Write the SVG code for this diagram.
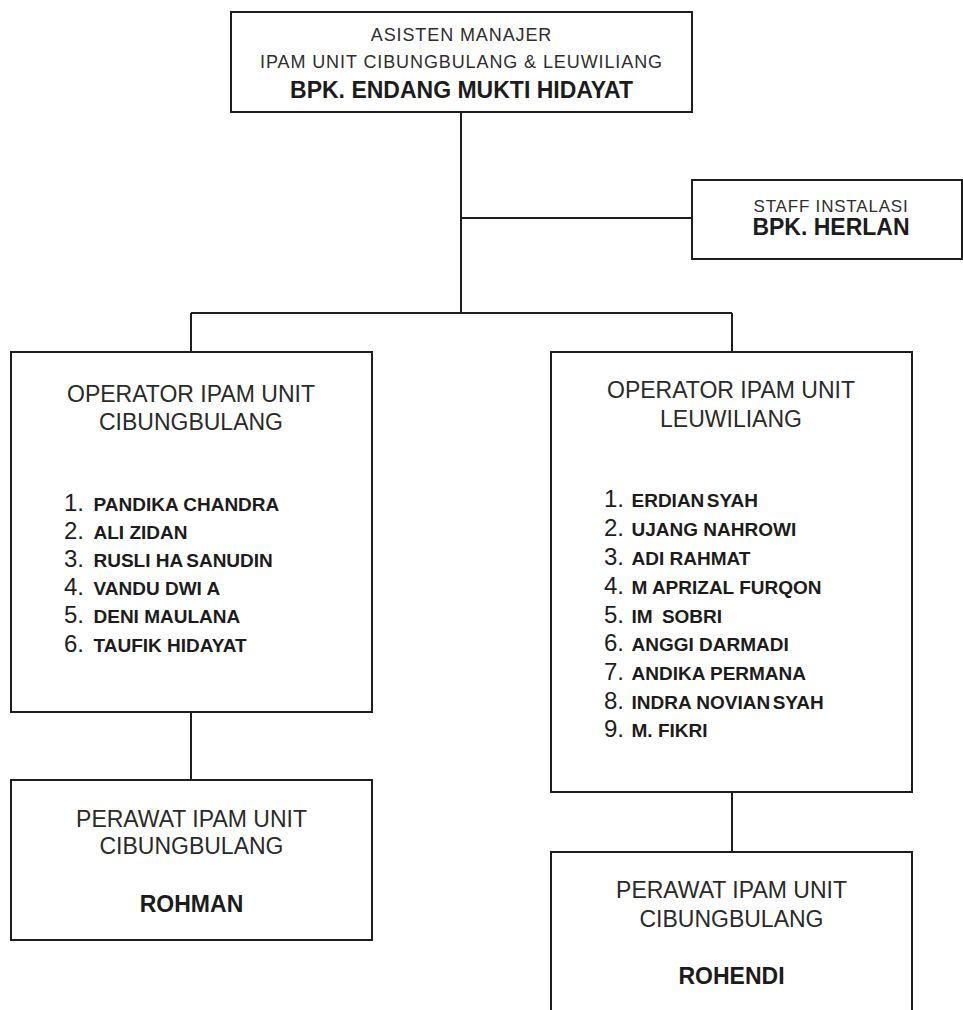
<svg xmlns="http://www.w3.org/2000/svg" width="963" height="1010" viewBox="0 0 963 1010">
  <style>
    .box { fill: #ffffff; stroke: #1e1e1e; stroke-width: 2; }
    .wire { fill: none; stroke: #1e1e1e; stroke-width: 2; }
    text { font-family: "Liberation Sans", Arial, sans-serif; text-anchor: middle; }
    .small { font-size: 18px; fill: #2e2e2e; letter-spacing: 0.9px; }
    .staff { font-size: 17px; fill: #2e2e2e; letter-spacing: 0.8px; }
    .name { font-size: 23px; font-weight: bold; fill: #1c1c1c; }
    .head { font-size: 23px; fill: #2a2a2a; }
    .list { text-anchor: start; }
    .num { font-size: 24px; fill: #1e1e1e; }
    .who { font-size: 19px; font-weight: bold; fill: #1c1c1c; }
  </style>
  <rect width="963" height="1010" fill="#ffffff"/>

  <!-- connectors -->
  <g id="connectors">
    <path class="wire" d="M461 112 V313"/>
    <path class="wire" d="M461 218 H692"/>
    <path class="wire" d="M191 313 H732"/>
    <path class="wire" d="M191 313 V352"/>
    <path class="wire" d="M732 313 V352"/>
    <path class="wire" d="M191 712 V780"/>
    <path class="wire" d="M732 792 V852"/>
  </g>

  <!-- assistant manager -->
  <g id="asisten-manajer">
    <rect class="box" x="231" y="12" width="461" height="100"/>
    <text class="small" x="461.5" y="41">ASISTEN MANAJER</text>
    <text class="small" x="461.5" y="68">IPAM UNIT CIBUNGBULANG &amp; LEUWILIANG</text>
    <text class="name" x="461.5" y="98">BPK. ENDANG MUKTI HIDAYAT</text>
  </g>

  <!-- installation staff -->
  <g id="staff-instalasi">
    <rect class="box" x="692" y="180" width="270" height="79"/>
    <text class="staff" x="831" y="212">STAFF INSTALASI</text>
    <text class="name" x="831" y="235">BPK. HERLAN</text>
  </g>

  <!-- operators, Cibungbulang -->
  <g id="operator-cibungbulang">
    <rect class="box" x="11" y="352" width="361" height="360"/>
    <text class="head" x="191" y="402">OPERATOR IPAM UNIT</text>
    <text class="head" x="191" y="430">CIBUNGBULANG</text>
    <g class="list">
      <text class="list num" x="64" y="511">1.</text><text class="list who" x="93.5" y="511">PANDIKA CHANDRA</text>
      <text class="list num" x="64" y="539">2.</text><text class="list who" x="93.5" y="539">ALI ZIDAN</text>
      <text class="list num" x="64" y="567">3.</text><text class="list who" x="93.5" y="567">RUSLI HA<tspan dx="3">SANUDIN</tspan></text>
      <text class="list num" x="64" y="595">4.</text><text class="list who" x="93.5" y="595">VANDU DWI A</text>
      <text class="list num" x="64" y="623">5.</text><text class="list who" x="93.5" y="623">DENI MAULANA</text>
      <text class="list num" x="64" y="651.5">6.</text><text class="list who" x="93.5" y="651.5">TAUFIK HIDAYAT</text>
    </g>
  </g>

  <!-- operators, Leuwiliang -->
  <g id="operator-leuwiliang">
    <rect class="box" x="551" y="352" width="361" height="440"/>
    <text class="head" x="731" y="398">OPERATOR IPAM UNIT</text>
    <text class="head" x="731" y="427">LEUWILIANG</text>
    <g class="list">
      <text class="list num" x="604" y="507">1.</text><text class="list who" x="631.5" y="507">ERDIAN<tspan dx="2.5">SYAH</tspan></text>
      <text class="list num" x="604" y="536">2.</text><text class="list who" x="631.5" y="536">UJANG NAHROWI</text>
      <text class="list num" x="604" y="565">3.</text><text class="list who" x="631.5" y="565">ADI RAHMAT</text>
      <text class="list num" x="604" y="594">4.</text><text class="list who" x="631.5" y="594">M APRIZAL FURQON</text>
      <text class="list num" x="604" y="622.5">5.</text><text class="list who" x="631.5" y="622.5">IM <tspan dx="4">SOBRI</tspan></text>
      <text class="list num" x="604" y="651">6.</text><text class="list who" x="631.5" y="651">ANGGI DARMADI</text>
      <text class="list num" x="604" y="680">7.</text><text class="list who" x="631.5" y="680">ANDIKA PERMANA</text>
      <text class="list num" x="604" y="708.5">8.</text><text class="list who" x="631.5" y="708.5">INDRA NOVIAN<tspan dx="2.5">SYAH</tspan></text>
      <text class="list num" x="604" y="737">9.</text><text class="list who" x="631.5" y="737">M. FIKRI</text>
    </g>
  </g>

  <!-- caretaker, Cibungbulang -->
  <g id="perawat-cibungbulang">
    <rect class="box" x="11" y="780" width="361" height="160"/>
    <text class="head" x="191.5" y="827">PERAWAT IPAM UNIT</text>
    <text class="head" x="191.5" y="854">CIBUNGBULANG</text>
    <text class="name" x="191.5" y="912">ROHMAN</text>
  </g>

  <!-- caretaker, second unit (runs off the bottom edge) -->
  <g id="perawat-leuwiliang">
    <rect class="box" x="551" y="852" width="361" height="170"/>
    <text class="head" x="731.5" y="898">PERAWAT IPAM UNIT</text>
    <text class="head" x="731.5" y="926.5">CIBUNGBULANG</text>
    <text class="name" x="731.5" y="984">ROHENDI</text>
  </g>
</svg>
